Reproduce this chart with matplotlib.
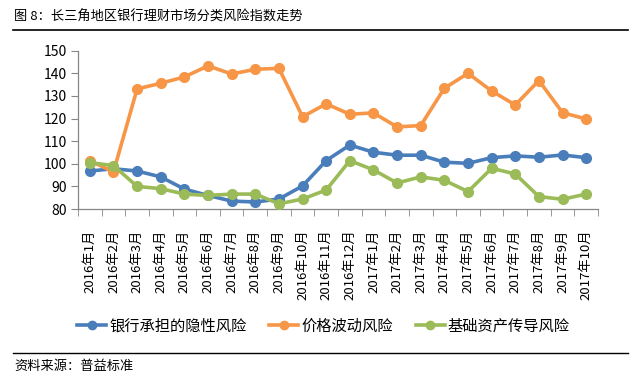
import matplotlib
matplotlib.use("Agg")
import matplotlib.pyplot as plt
from matplotlib.lines import Line2D
from matplotlib.ticker import FixedLocator

plt.rcParams['font.family'] = ['Noto Sans CJK SC', 'DejaVu Sans']

months = ["2016年1月", "2016年2月", "2016年3月", "2016年4月", "2016年5月", "2016年6月",
          "2016年7月", "2016年8月", "2016年9月", "2016年10月", "2016年11月", "2016年12月",
          "2017年1月", "2017年2月", "2017年3月", "2017年4月", "2017年5月", "2017年6月",
          "2017年7月", "2017年8月", "2017年9月", "2017年10月"]

bank_hidden = [96.8, 97.8, 96.8, 94.2, 88.8, 86.0, 83.5, 83.1, 84.4, 90.2, 101.4, 108.3,
               105.1, 103.8, 103.8, 100.7, 100.2, 102.7, 103.5, 102.9, 103.9, 102.7]
price_vol = [101.4, 96.4, 133.1, 135.6, 138.4, 143.3, 139.7, 141.8, 142.2, 120.8, 126.5, 121.9,
             122.5, 116.3, 116.9, 133.4, 140.0, 132.2, 126.0, 136.8, 122.6, 119.8]
base_asset = [100.5, 99.2, 90.0, 89.0, 86.6, 86.0, 86.6, 86.6, 82.3, 84.4, 88.4, 101.4,
              97.3, 91.5, 94.2, 92.7, 87.7, 98.0, 95.5, 85.5, 84.3, 86.6]

series_names = ["银行承担的隐性风险", "价格波动风险", "基础资产传导风险"]
colors = ["#4a7ebb", "#f79646", "#9bbb59"]
yticks = [80, 90, 100, 110, 120, 130, 140, 150]

fig = plt.figure(figsize=(6.38, 3.77), dpi=100)
ax = fig.add_axes([0.1223, 0.4456, 0.8150, 0.4199])

x = list(range(len(months)))
for vals, c, name in zip([bank_hidden, price_vol, base_asset], colors, series_names):
    ax.plot(x, vals, color=c, lw=2.6, marker='o', ms=7, label=name,
            solid_joinstyle='round', zorder=3)

ax.set_xlim(-0.5, len(months) - 0.5)
ax.set_ylim(80, 150)
ax.set_yticks(yticks)
ax.set_xticks(x)
ax.set_xticklabels(months, rotation=90, fontsize=9.5)
ax.xaxis.set_minor_locator(FixedLocator([i - 0.5 for i in range(len(months) + 1)]))
ax.tick_params(axis='x', which='major', length=0, pad=15)
ax.tick_params(axis='x', which='minor', length=5, color='#868686', direction='out')
ax.tick_params(axis='y', length=5, color='#868686', labelsize=10, pad=3)
for s in ['top', 'right']:
    ax.spines[s].set_visible(False)
for s in ['left', 'bottom']:
    ax.spines[s].set_color('#868686')
    ax.spines[s].set_linewidth(0.9)

handles = [Line2D([0], [0], color=c, lw=2.6, marker='o', ms=6) for c in colors]
fig.legend(handles, series_names, loc='center', bbox_to_anchor=(0.507, 1 - 326 / 377),
           ncol=3, frameon=False, fontsize=11, handlelength=1.9, columnspacing=1.5,
           handletextpad=0.2)

fig.text(0.022, 1 - 17 / 377, "图 8：长三角地区银行理财市场分类风险指数走势", fontsize=9.5,
         va='center', ha='left')
fig.add_artist(Line2D([13 / 638, 628 / 638], [1 - 30 / 377, 1 - 30 / 377], color='black', lw=1.2))
fig.add_artist(Line2D([13 / 638, 628 / 638], [1 - 353 / 377, 1 - 353 / 377], color='black', lw=1.0))
fig.text(0.022, 1 - 366 / 377, "资料来源：普益标准", fontsize=9.5, va='center', ha='left')

fig.savefig("out.png", dpi=100)
